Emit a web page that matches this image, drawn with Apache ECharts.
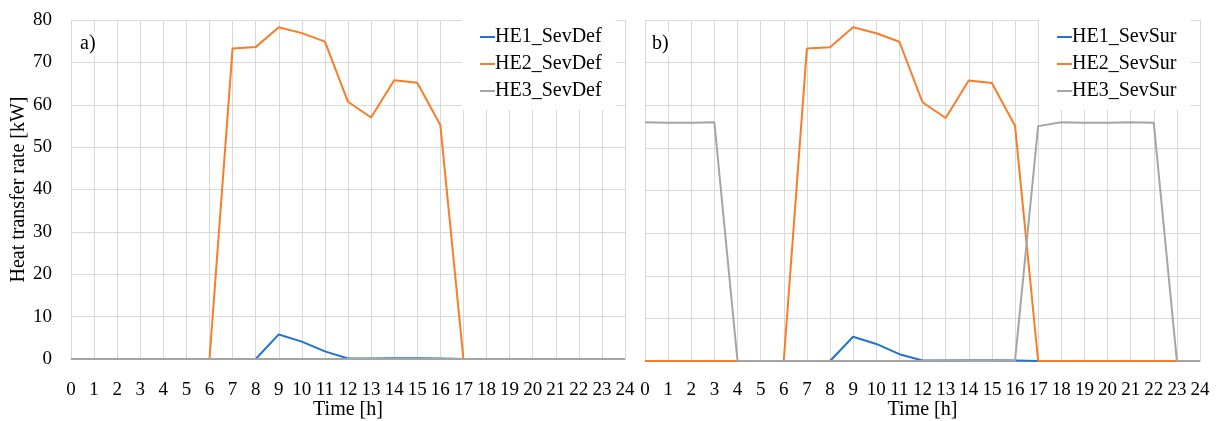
<!DOCTYPE html>
<html>
<head>
<meta charset="utf-8">
<script src="https://cdn.jsdelivr.net/npm/echarts@6/dist/echarts.min.js"></script>
<style>
html,body{margin:0;padding:0;background:#fff;}
#chart{width:1218px;height:421px;}
</style>
</head>
<body>
<div id="chart"></div>
<script>
const hours = [0,1,2,3,4,5,6,7,8,9,10,11,12,13,14,15,16,17,18,19,20,21,22,23,24];
const he1SevDef = [0,0,0,0,0,0,0,0,0,5.8,4.1,1.8,0.1,0.1,0.2,0.2,0.1,0,0,0,0,0,0,0,0];
const he2SevDef = [0,0,0,0,0,0,0,73.3,73.6,78.3,76.9,74.9,60.7,57.0,65.8,65.2,55.2,0,0,0,0,0,0,0,0];
const he3SevDef = [0,0,0,0,0,0,0,0,0,0,0,0,0,0,0,0,0,0,0,0,0,0,0,0,0];
const he1SevSur = [0,0,0,0,0,0,0,0,0,5.7,4.0,1.6,0.1,0.1,0.2,0.2,0.1,0,0,0,0,0,0,0,0];
const he2SevSur = [0,0,0,0,0,0,0,73.3,73.6,78.3,76.9,74.9,60.7,57.0,65.8,65.2,55.2,0,0,0,0,0,0,0,0];
const he3SevSur = [56.0,55.9,55.9,56.0,0,0,0,0,0,0,0,0,0,0.1,0.2,0.2,0,55.1,56.0,55.9,55.9,56.0,55.9,0,0];
const namesDef = ['HE1_SevDef','HE2_SevDef','HE3_SevDef'];
const namesSur = ['HE1_SevSur','HE2_SevSur','HE3_SevSur'];
const panelLabels = ['a)','b)'];
const xName = 'Time [h]';
const yName = 'Heat transfer rate [kW]';

const FONT = 'Liberation Serif';
const colors = ['#1f74cf','#f97d27','#a5a5a5'];
const pairs = arr => hours.map((h,i)=>[h,arr[i]]);

const chart = echarts.init(document.getElementById('chart'), null, {renderer:'canvas'});

function xAxisCfg(gi, margin, gap){
  return {
    type:'value', gridIndex:gi, min:0, max:24, interval:1,
    name:xName, nameLocation:'middle', nameGap:gap, nameMoveOverlap:false,
    nameTextStyle:{fontFamily:FONT,fontSize:20,color:'#000'},
    axisLine:{show:true,lineStyle:{color:'#bfbfbf',width:1}},
    axisTick:{show:false},
    axisLabel:{fontFamily:FONT,fontSize:19,color:'#000',margin:margin},
    splitLine:{show:true,lineStyle:{color:'#d9d9d9',width:1}}
  };
}
function yAxisCfg(gi, showLabels){
  return {
    type:'value', gridIndex:gi, min:0, max:80, interval:10,
    name: showLabels ? yName : '', nameLocation:'middle', nameGap:37, nameRotate:90,
    nameTextStyle:{fontFamily:FONT,fontSize:20,color:'#000'},
    axisLine:{show:true,lineStyle:{color:'#d9d9d9',width:1}},
    axisTick:{show:false},
    axisLabel:{show:showLabels,fontFamily:FONT,fontSize:19,color:'#000',margin:19},
    splitLine:{show:true,lineStyle:{color:'#d9d9d9',width:1}}
  };
}
function lineSeries(name, data, idx, gi){
  return {
    name:name, type:'line', xAxisIndex:gi, yAxisIndex:gi,
    data:pairs(data), showSymbol:false, symbol:'none',
    lineStyle:{color:colors[idx],width:2}, itemStyle:{color:colors[idx]},
    animation:false
  };
}
function legendCfg(names, left){
  return {
    data:names, orient:'vertical', left:left, top:20,
    backgroundColor:'#fff', padding:[7,14,9,18],
    itemWidth:15, itemHeight:2, itemGap:7, icon:'rect',
    textStyle:{fontFamily:FONT,fontSize:20,color:'#000',padding:[0,0,0,-5]},
    selectedMode:false
  };
}

const option = {
  backgroundColor:'#fff',
  animation:false,
  grid:[
    {left:71,top:20,width:554,height:339,outerBoundsMode:'none',containLabel:false},
    {left:645,top:20,width:555,height:341,outerBoundsMode:'none',containLabel:false}
  ],
  xAxis:[xAxisCfg(0,22,41), xAxisCfg(1,20,39)],
  yAxis:[yAxisCfg(0,true), yAxisCfg(1,false)],
  legend:[legendCfg(namesDef,462), legendCfg(namesSur,1039)],
  graphic:[
    {type:'text',left:78,top:32,z:100,style:{text:panelLabels[0],font:'20px "Liberation Serif"',fill:'#000',backgroundColor:'#fff',padding:[2,2]}},
    {type:'text',left:650,top:32,z:100,style:{text:panelLabels[1],font:'20px "Liberation Serif"',fill:'#000',backgroundColor:'#fff',padding:[2,2]}}
  ],
  series:[
    lineSeries(namesDef[0],he1SevDef,0,0),
    lineSeries(namesDef[1],he2SevDef,1,0),
    lineSeries(namesDef[2],he3SevDef,2,0),
    lineSeries(namesSur[0],he1SevSur,0,1),
    lineSeries(namesSur[1],he2SevSur,1,1),
    lineSeries(namesSur[2],he3SevSur,2,1)
  ]
};
chart.setOption(option);
</script>
</body>
</html>
